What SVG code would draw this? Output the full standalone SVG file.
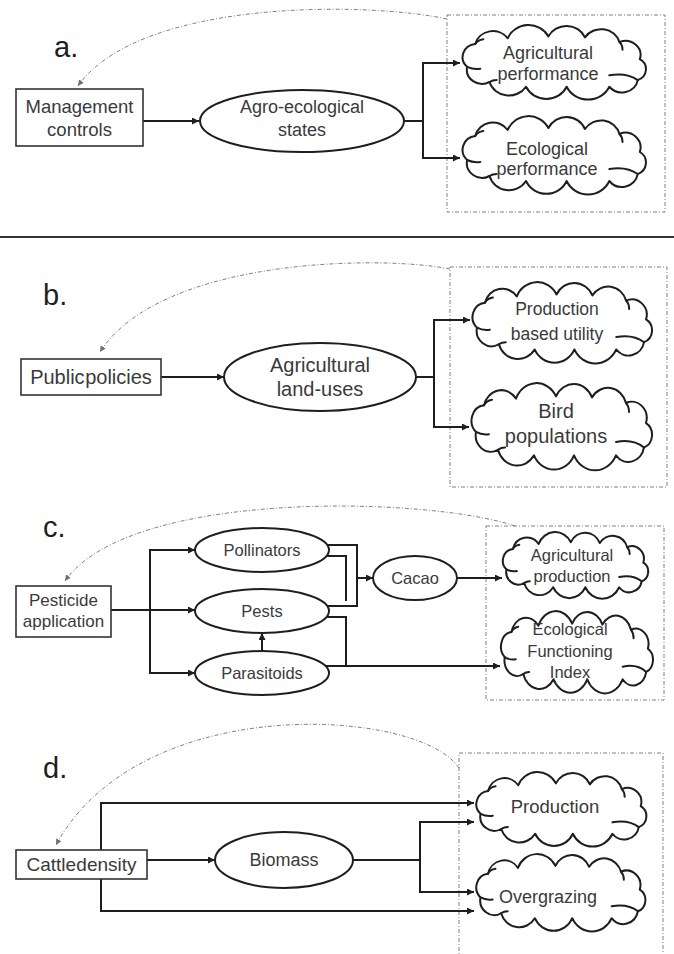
<svg xmlns="http://www.w3.org/2000/svg" xmlns:xlink="http://www.w3.org/1999/xlink" width="674" height="954" viewBox="0 0 674 954">
<style>
  .conn{fill:none;stroke:#1e1e1e;stroke-width:2}
  .fb{fill:none;stroke:#808080;stroke-width:1;stroke-dasharray:4 2 1 2}
  .dbox{fill:none;stroke:#808080;stroke-width:1;stroke-dasharray:4 2 1 2}
  .rect{fill:#fff;stroke:#333;stroke-width:1.6}
  .ell{fill:#fff;stroke:#1e1e1e;stroke-width:2}
  .cl{fill:#fff;stroke:#1e1e1e;stroke-width:2;vector-effect:non-scaling-stroke;stroke-linejoin:round}
  .cr{fill:none;stroke:#1e1e1e;stroke-width:2;vector-effect:non-scaling-stroke;stroke-linecap:round}
  text{font-family:"Liberation Sans",Arial,sans-serif;fill:#3a3a3a;text-anchor:middle}
  .lbl{font-size:29px;fill:#1e1e1e;text-anchor:start}
</style>
<defs>
  <marker id="ah" viewBox="0 0 10 10" refX="10" refY="5" markerWidth="8" markerHeight="7" markerUnits="userSpaceOnUse" orient="auto">
    <path d="M0,0 L10,5 L0,10 z" fill="#1e1e1e"/>
  </marker>
  <marker id="ahg" viewBox="0 0 10 10" refX="10" refY="5" markerWidth="6" markerHeight="6" markerUnits="userSpaceOnUse" orient="auto">
    <path d="M0,0 L10,5 L0,10 z" fill="#707070"/>
  </marker>
  <symbol id="cloud" viewBox="0 0 190 80" preserveAspectRatio="none" overflow="visible">
    <path class="cl" d="M8,44 A13.9,13.9 0 0 1 16,20 A17.9,17.9 0 0 1 48,14 A22,22 0 0 1 88,12 A19.8,19.8 0 0 1 124,13 A18.9,18.9 0 0 1 158,18 A14.8,14.8 0 0 1 178,36 A12.2,12.2 0 0 1 176,58 A15.9,15.9 0 0 1 148,65 A23.1,23.1 0 0 1 106,65 A22,22 0 0 1 66,65 A20,20 0 0 1 30,60 A15,15 0 0 1 8,44 Z"/>
    <path class="cr" d="M8,44 Q14,47 21,46"/>
    <path class="cr" d="M148,53 Q165,50 176,58"/>
    <path class="cr" d="M16,20 Q18,16 24,15"/>
    <path class="cr" d="M158,18 Q161,21 161,26"/>
    <path class="cr" d="M30,60 Q33,58 37,58"/>
  </symbol>
</defs>
<rect width="674" height="954" fill="#fff"/>

<!-- panel labels and divider -->
<text class="lbl" x="54" y="57">a.</text>
<text class="lbl" x="43" y="305">b.</text>
<text class="lbl" x="43" y="537">c.</text>
<text class="lbl" x="43" y="778">d.</text>
<line x1="0" y1="237" x2="674" y2="237" stroke="#333" stroke-width="2"/>

<!-- dashed boundary boxes -->
<g id="boxes">
  <rect class="dbox" x="447" y="15" width="218" height="197"/>
  <rect class="dbox" x="450" y="267" width="217" height="220"/>
  <rect class="dbox" x="486" y="526" width="178" height="174"/>
  <rect class="dbox" x="459" y="753" width="204" height="210"/>
</g>

<g id="connectors">
  <!-- feedback curves -->
  <path class="fb" d="M447,19 C370,2 140,-2 78,86" marker-end="url(#ahg)"/>
  <path class="fb" d="M450,269 C380,255 160,258 100,352" marker-end="url(#ahg)"/>
  <path class="fb" d="M515,526 C430,497 130,488 65,581" marker-end="url(#ahg)"/>
  <path class="fb" d="M459,768 C420,708 140,690 56,845" marker-end="url(#ahg)"/>
  <!-- a -->
  <path class="conn" d="M143,121 H199" marker-end="url(#ah)"/>
  <path class="conn" d="M404,121 H423"/>
  <path class="conn" d="M423,121 V63 H460" marker-end="url(#ah)"/>
  <path class="conn" d="M423,121 V158 H460" marker-end="url(#ah)"/>
  <!-- b -->
  <path class="conn" d="M161,377 H224" marker-end="url(#ah)"/>
  <path class="conn" d="M416,377 H434"/>
  <path class="conn" d="M434,377 V320 H470" marker-end="url(#ah)"/>
  <path class="conn" d="M434,377 V427 H469" marker-end="url(#ah)"/>
  <!-- c -->
  <path class="conn" d="M111,610 H195" marker-end="url(#ah)"/>
  <path class="conn" d="M150,610 V550 H195" marker-end="url(#ah)"/>
  <path class="conn" d="M150,610 V673 H195" marker-end="url(#ah)"/>
  <path class="conn" d="M262,651 V633" marker-end="url(#ah)"/>
  <path class="conn" d="M327,545 H357 V606 H327"/>
  <path class="conn" d="M357,578 H373" marker-end="url(#ah)"/>
  <path class="conn" d="M326,556 H346 V601"/>
  <path class="conn" d="M326,617 H346 V666"/>
  <path class="conn" d="M325,666 H500" marker-end="url(#ah)"/>
  <path class="conn" d="M457,578 H502" marker-end="url(#ah)"/>
  <!-- d -->
  <path class="conn" d="M147,860 H215" marker-end="url(#ah)"/>
  <path class="conn" d="M101,850 V803 H474" marker-end="url(#ah)"/>
  <path class="conn" d="M101,878 V911 H474" marker-end="url(#ah)"/>
  <path class="conn" d="M353,860 H420"/>
  <path class="conn" d="M420,860 V822 H474" marker-end="url(#ah)"/>
  <path class="conn" d="M420,860 V892 H474" marker-end="url(#ah)"/>
</g>

<!-- panel a nodes -->
<g id="management-controls">
  <rect class="rect" x="16" y="89" width="127" height="57"/>
  <text x="79.5" y="113" font-size="18.5">Management</text>
  <text x="79.5" y="136" font-size="18.5">controls</text>
</g>
<g id="agro-ecological-states">
  <ellipse class="ell" cx="302" cy="121" rx="102" ry="31"/>
  <text x="302" y="113" font-size="18">Agro-ecological</text>
  <text x="302" y="136" font-size="18">states</text>
</g>
<g id="agricultural-performance">
  <use xlink:href="#cloud" href="#cloud" x="459" y="25" width="193" height="76"/>
  <text x="548" y="59" font-size="18">Agricultural</text>
  <text x="548" y="80" font-size="18">performance</text>
</g>
<g id="ecological-performance">
  <use xlink:href="#cloud" href="#cloud" x="459" y="116" width="193" height="80"/>
  <text x="547" y="155" font-size="18">Ecological</text>
  <text x="547" y="175" font-size="18">performance</text>
</g>

<!-- panel b nodes -->
<g id="public-policies">
  <rect class="rect" x="21" y="359" width="140" height="36"/>
  <text x="91" y="384" font-size="20" word-spacing="-5">Public policies</text>
</g>
<g id="agricultural-land-uses">
  <ellipse class="ell" cx="320" cy="377" rx="96" ry="34"/>
  <text x="320" y="372" font-size="20">Agricultural</text>
  <text x="320" y="396" font-size="20">land-uses</text>
</g>
<g id="production-based-utility">
  <use xlink:href="#cloud" href="#cloud" x="469" y="282" width="189" height="83"/>
  <text x="557" y="315" font-size="17.5">Production</text>
  <text x="557" y="340" font-size="17.5">based utility</text>
</g>
<g id="bird-populations">
  <use xlink:href="#cloud" href="#cloud" x="468" y="383" width="190" height="89"/>
  <text x="556" y="418" font-size="20">Bird</text>
  <text x="556" y="443" font-size="20">populations</text>
</g>

<!-- panel c nodes -->
<g id="pesticide-application">
  <rect class="rect" x="16" y="586" width="95" height="51"/>
  <text x="63.5" y="606" font-size="17">Pesticide</text>
  <text x="63.5" y="627" font-size="17">application</text>
</g>
<g id="pollinators">
  <ellipse class="ell" cx="262" cy="550" rx="67" ry="22"/>
  <text x="262" y="556" font-size="16.5">Pollinators</text>
</g>
<g id="pests">
  <ellipse class="ell" cx="262" cy="611" rx="67" ry="22"/>
  <text x="262" y="617" font-size="16.5">Pests</text>
</g>
<g id="parasitoids">
  <ellipse class="ell" cx="262" cy="673" rx="67" ry="22"/>
  <text x="262" y="679" font-size="16.5">Parasitoids</text>
</g>
<g id="cacao">
  <ellipse class="ell" cx="415" cy="578" rx="42" ry="22"/>
  <text x="415" y="584" font-size="16.5">Cacao</text>
</g>
<g id="agricultural-production">
  <use xlink:href="#cloud" href="#cloud" x="500" y="532" width="153" height="68"/>
  <text x="572" y="561" font-size="16.5">Agricultural</text>
  <text x="572" y="582" font-size="16.5">production</text>
</g>
<g id="ecological-functioning-index">
  <use xlink:href="#cloud" href="#cloud" x="498" y="611" width="160" height="84"/>
  <text x="570" y="635" font-size="16.5">Ecological</text>
  <text x="570" y="657" font-size="16.5">Functioning</text>
  <text x="570" y="678" font-size="16.5">Index</text>
</g>

<!-- panel d nodes -->
<g id="cattle-density">
  <rect class="rect" x="16" y="850" width="131" height="29"/>
  <text x="81.5" y="871" font-size="19" word-spacing="-5">Cattle density</text>
</g>
<g id="biomass">
  <ellipse class="ell" cx="284" cy="860" rx="69" ry="28"/>
  <text x="284" y="866" font-size="18">Biomass</text>
</g>
<g id="production">
  <use xlink:href="#cloud" href="#cloud" x="473" y="772" width="179" height="76"/>
  <text x="555" y="813" font-size="18.5">Production</text>
</g>
<g id="overgrazing">
  <use xlink:href="#cloud" href="#cloud" x="473" y="854" width="178" height="79"/>
  <text x="548" y="903" font-size="18">Overgrazing</text>
</g>
</svg>
